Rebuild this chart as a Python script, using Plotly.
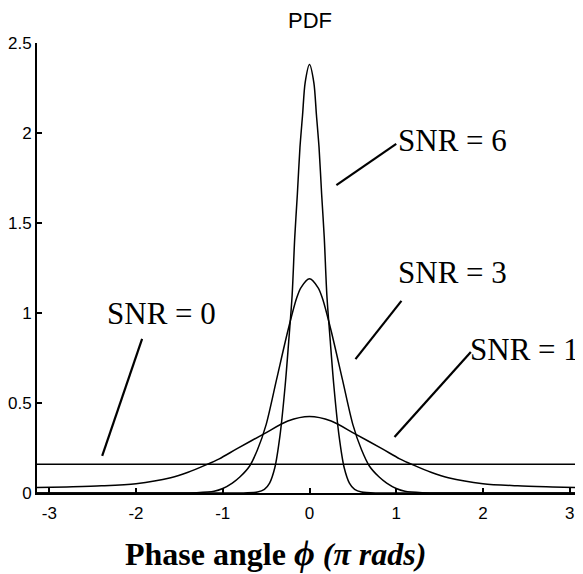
import plotly.graph_objects as go

# ---- data ----
x_snr0 = [-3.1416, 3.1416]
y_snr0 = [0.16, 0.16]

x_snr1 = [-3.1416, -2.8, -2.4, -2.0, -1.6, -1.4, -1.2, -1.04, -0.84, -0.52, -0.25, 0.0,
          0.25, 0.52, 0.84, 1.04, 1.2, 1.4, 1.6, 2.0, 2.4, 2.8, 3.1416]
y_snr1 = [0.03, 0.034, 0.04, 0.052, 0.085, 0.115, 0.155, 0.19, 0.245, 0.33, 0.40, 0.425,
          0.40, 0.33, 0.245, 0.19, 0.155, 0.115, 0.085, 0.052, 0.04, 0.034, 0.03]

x_snr3 = [-3.1416, -2.0, -1.6, -1.3, -1.1, -1.0, -0.89, -0.8, -0.69, -0.6, -0.5, -0.38, -0.25, -0.15, -0.1, 0.0,
          0.1, 0.15, 0.25, 0.38, 0.5, 0.6, 0.69, 0.8, 0.89, 1.0, 1.1, 1.3, 1.6, 2.0, 3.1416]
y_snr3 = [0.0, 0.0, 0.0, 0.002, 0.01, 0.025, 0.055, 0.09, 0.15, 0.24, 0.38, 0.63, 0.90, 1.08, 1.14, 1.19,
          1.14, 1.08, 0.90, 0.63, 0.38, 0.24, 0.15, 0.09, 0.055, 0.025, 0.01, 0.002, 0.0, 0.0, 0.0]

x_snr6 = [-3.1416, -2.0, -1.2, -0.8, -0.6, -0.52, -0.46, -0.40, -0.34, -0.28, -0.24, -0.20, -0.17, -0.14, -0.11, -0.08, -0.05, 0.0,
          0.05, 0.08, 0.11, 0.14, 0.17, 0.20, 0.24, 0.28, 0.34, 0.40, 0.46, 0.52, 0.6, 0.8, 1.2, 2.0, 3.1416]
y_snr6 = [0.0, 0.0, 0.0, 0.0, 0.005, 0.02, 0.055, 0.14, 0.32, 0.60, 0.84, 1.10, 1.42, 1.66, 1.92, 2.10, 2.28, 2.38,
          2.28, 2.10, 1.92, 1.66, 1.42, 1.10, 0.84, 0.60, 0.32, 0.14, 0.055, 0.02, 0.005, 0.0, 0.0, 0.0, 0.0]

x_tick_vals = [-3, -2, -1, 0, 1, 2, 3]
x_tick_text = ["-3", "-2", "-1", "0", "1", "2", "3"]
y_tick_vals = [0, 0.5, 1, 1.5, 2, 2.5]
y_tick_text = ["0", "0.5", "1", "1.5", "2", "2.5"]

labels = ["SNR = 6", "SNR = 3", "SNR = 1", "SNR = 0"]
label_pos = [(1.0, 1.96), (1.0, 1.225), (1.83, 0.795), (-2.36, 1.0)]
leader_lines = [((0.31, 1.71), (1.0, 1.94)),
                ((0.53, 0.744), (1.06, 1.067)),
                ((0.98, 0.311), (1.86, 0.783)),
                ((-2.39, 0.206), (-1.93, 0.856))]

fig = go.Figure()
line_style = dict(color="black", width=1.5, shape="spline", smoothing=0.8)
for xs, ys in [(x_snr0, y_snr0), (x_snr1, y_snr1), (x_snr3, y_snr3), (x_snr6, y_snr6)]:
    fig.add_trace(go.Scatter(x=xs, y=ys, mode="lines", line=line_style,
                             showlegend=False, hoverinfo="skip"))

for (x0, y0), (x1, y1) in leader_lines:
    fig.add_shape(type="line", x0=x0, y0=y0, x1=x1, y1=y1, xref="x", yref="y",
                  line=dict(color="black", width=2.2))

for txt, (lx, ly) in zip(labels, label_pos):
    fig.add_annotation(x=lx, y=ly, xref="x", yref="y", text=txt, showarrow=False,
                       xanchor="left", yanchor="middle",
                       font=dict(family="Liberation Serif", size=31, color="black"))

fig.add_annotation(x=0.501, y=1.051, xref="paper", yref="paper", text="PDF", showarrow=False,
                   xanchor="center", yanchor="middle",
                   font=dict(family="Liberation Sans", size=22, color="black"))

fig.add_annotation(x=0.437, y=-0.133, xref="paper", yref="paper",
                   text="<b>Phase angle </b><b><i><span style='font-size:36px'>ϕ</span> (π rads)</i></b>",
                   showarrow=False, xanchor="center", yanchor="middle",
                   font=dict(family="Liberation Serif", size=32, color="black"))

# the page body adds an 8px offset, so the figure is 8px smaller than the window
fig.update_layout(
    width=575, height=566,
    margin=dict(l=29, r=1, t=35, b=81, autoexpand=False),
    paper_bgcolor="white", plot_bgcolor="white",
    xaxis=dict(range=[-3.1416, 3.1416], showline=True, linecolor="black", linewidth=2,
               automargin=False,
               ticks="inside", ticklen=5, tickwidth=1.5, tickcolor="black",
               tickvals=x_tick_vals, ticktext=x_tick_text, showgrid=False, zeroline=False,
               ticklabelstandoff=4,
               tickfont=dict(family="Liberation Sans", size=17, color="black")),
    yaxis=dict(range=[0, 2.5], showline=True, linecolor="black", linewidth=2,
               automargin=False,
               ticks="inside", ticklen=5, tickwidth=1.5, tickcolor="black",
               tickvals=y_tick_vals, ticktext=y_tick_text, showgrid=False, zeroline=False,
               ticklabelstandoff=0,
               tickfont=dict(family="Liberation Sans", size=17, color="black")),
)

fig.write_html("out.html")
